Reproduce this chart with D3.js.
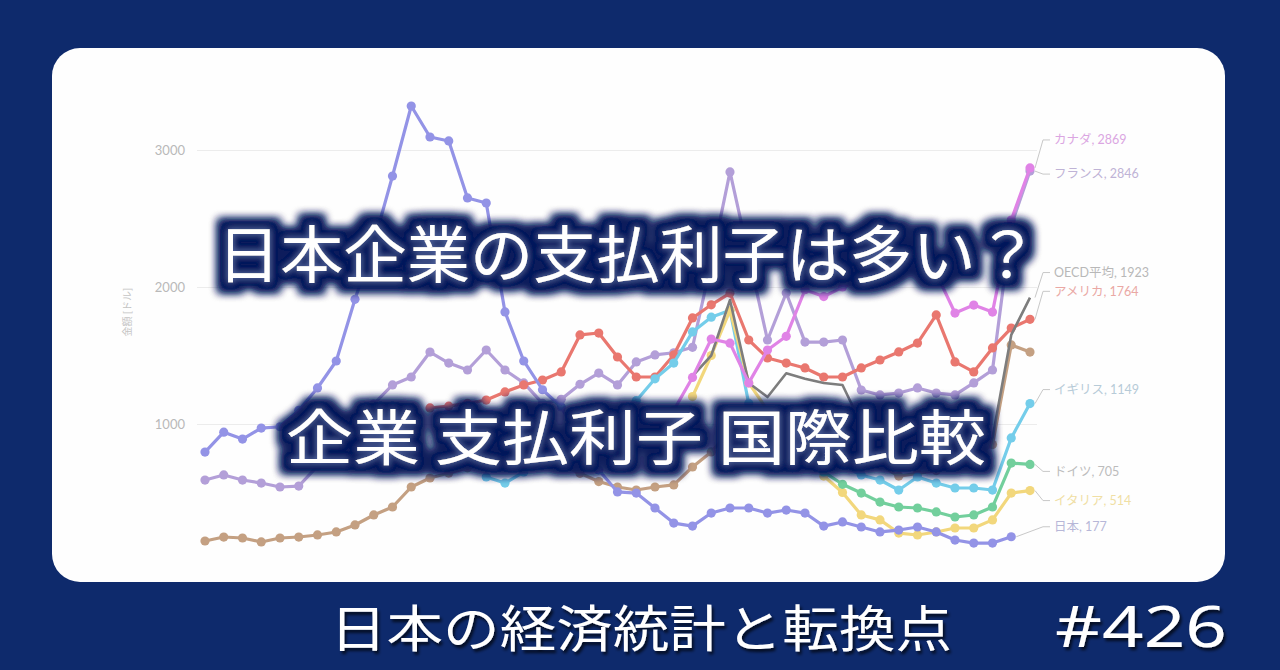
<!DOCTYPE html>
<html><head><meta charset="utf-8">
<script src="https://cdn.jsdelivr.net/npm/d3@7/dist/d3.min.js"></script>
<style>
html,body{margin:0;padding:0;background:#0e2a6c;}
svg{display:block;}
</style></head>
<body>
<svg id="c" width="1280" height="670"></svg>
<script>
// ---- data ----
const years = [1978,1979,1980,1981,1982,1983,1984,1985,1986,1987,1988,1989,1990,1991,1992,1993,1994,1995,1996,1997,1998,1999,2000,2001,2002,2003,2004,2005,2006,2007,2008,2009,2010,2011,2012,2013,2014,2015,2016,2017,2018,2019,2020,2021,2022];
const yTicks = [1000, 2000, 3000];
const title1 = "日本企業の支払利子は多い？";
const title2 = "企業 支払利子 国際比較";
const footer = "日本の経済統計と転換点";
const footerNo = "#426";
const yTitle = "金額 [ドル]";

const japan = [795,940,890,970,980,1100,1263,1460,1910,2320,2810,3321,3095,3066,2650,2613,1818,1460,1250,1124,880,664,504,496,387,277,255,350,387,387,350,372,350,255,285,248,212,226,248,212,153,131,131,177,null];
const france = [591,628,591,569,540,547,693,839,993,1146,1285,1343,1525,1445,1394,1540,1394,1300,1150,1180,1290,1372,1285,1453,1504,1520,1560,2180,2840,2226,1613,1956,1598,1598,1613,1248,1212,1226,1263,1226,1212,1300,1394,2450,2846];
const brown = [146,175,168,139,168,175,190,212,263,336,394,540,606,642,680,720,760,780,760,700,640,580,540,518,540,555,686,796,950,1000,950,900,860,820,780,740,700,620,640,660,700,760,850,1577,1525];
const usa = [null,null,null,null,null,null,null,null,null,null,null,null,1117,1130,1150,1175,1234,1285,1321,1380,1650,1664,1489,1343,1343,1504,1774,1870,1956,1613,1482,1445,1409,1343,1343,1409,1467,1526,1591,1796,1453,1380,1555,1700,1764];
const uk = [null,null,null,null,null,null,null,null,null,null,null,null,null,null,null,613,569,650,750,850,950,1050,1100,1170,1330,1445,1672,1780,1830,1150,950,850,800,750,700,628,591,518,613,569,533,533,518,898,1149];
const canada = [null,null,null,null,null,null,null,null,null,null,null,null,null,null,null,null,null,null,null,null,null,null,null,null,900,1100,1340,1620,1590,1300,1540,1640,1980,1930,2000,2050,2100,2150,2200,2100,1810,1868,1817,2489,2869];
const italy = [null,null,null,null,null,null,null,null,null,null,null,null,null,null,null,null,null,null,null,null,null,null,null,null,null,null,1200,1500,1830,1300,1100,1000,850,620,500,336,300,204,190,212,241,241,300,496,514];
const germany = [null,null,null,null,null,null,null,null,null,null,null,null,null,null,null,null,null,null,null,null,null,null,null,null,null,null,null,null,null,1000,900,850,780,650,560,496,430,394,387,358,321,336,394,715,705];
const oecd = [null,null,null,null,null,null,null,null,null,null,null,null,null,null,null,null,null,null,null,null,null,null,null,null,null,null,1350,1500,1905,1299,1197,1370,1330,1299,1285,1000,900,850,820,800,780,800,900,1650,1923];

const seriesNames = ["日本","フランス","韓国","アメリカ","イギリス","カナダ","イタリア","ドイツ","OECD平均"];
const seriesValues = [japan, france, brown, usa, uk, canada, italy, germany, oecd];
const endLabels = ["日本, 177","フランス, 2846",null,"アメリカ, 1764","イギリス, 1149","カナダ, 2869","イタリア, 514","ドイツ, 705","OECD平均, 1923"];

// ---- styles / layout ----
const lineColors = ["#9393e6","#b39fd8","#c4a082","#e9776f","#74cdea","#e083e6","#f2d77c","#72cf9c","#7d7d7d"];
const labelColors = ["#b7b7d8","#bfb3d6",null,"#eaa8a4","#b7cbd8","#dba6e2","#f0dfa4","#bcbcbc","#b8b8b8"];
const labelNudge = [-10, 3, 0, -28, -14, -28, 10, 7, -25];
const drawOrder = [2,1,3,4,6,7,8,5,0];

const svg = d3.select("#c");
const defs = svg.append("defs");
const f = defs.append("filter").attr("id","glow").attr("x","-10%").attr("y","-50%").attr("width","120%").attr("height","200%");
f.append("feMorphology").attr("in","SourceAlpha").attr("operator","dilate").attr("radius",10).attr("result","d");
f.append("feGaussianBlur").attr("in","d").attr("stdDeviation",4).attr("result","b");
f.append("feFlood").attr("flood-color","#0b1f5c").attr("result","fl");
f.append("feComposite").attr("in","fl").attr("in2","b").attr("operator","in").attr("result","navy");
f.append("feGaussianBlur").attr("in","SourceAlpha").attr("stdDeviation",3).attr("result","sb");
f.append("feFlood").attr("flood-color","#6f86c8").attr("flood-opacity",0.6).attr("result","fl2");
f.append("feComposite").attr("in","fl2").attr("in2","sb").attr("operator","in").attr("result","halo");
const fm = f.append("feMerge");
fm.append("feMergeNode").attr("in","navy");
fm.append("feMergeNode").attr("in","navy");
fm.append("feMergeNode").attr("in","halo");
fm.append("feMergeNode").attr("in","SourceGraphic");

const sh = defs.append("filter").attr("id","shadow").attr("x","-5%").attr("y","-20%").attr("width","110%").attr("height","150%");
sh.append("feDropShadow").attr("dx",2).attr("dy",3).attr("stdDeviation",1.5).attr("flood-color","#000").attr("flood-opacity",0.7);

// background & card
svg.append("rect").attr("width",1280).attr("height",670).attr("fill","#0e2a6c");
svg.append("rect").attr("x",52).attr("y",48).attr("width",1173).attr("height",534).attr("rx",28).attr("fill","#fefefe");

const x = d3.scalePoint().domain(years).range([205,1030]);
const y = d3.scaleLinear().domain([0,3000]).range([561,150]);

// grid + axis
const ax = svg.append("g").attr("transform","translate(197,0)")
  .call(d3.axisLeft(y).tickValues(yTicks).tickSize(-840).tickPadding(12).tickFormat(d3.format("d")));
ax.select(".domain").remove();
ax.selectAll(".tick line").attr("stroke","#ececec").attr("stroke-width",1.2);
ax.selectAll(".tick text").attr("fill","#b9b9b9").attr("font-size",13).attr("font-family","Lato, 'Noto Sans', sans-serif");

svg.append("text").attr("transform","translate(131,312) rotate(-90)").attr("text-anchor","middle")
  .attr("font-size",10).attr("fill","#c4c4c4").attr("font-family","'Noto Sans CJK JP', sans-serif").text(yTitle);

// lines
const line = d3.line().defined(d => d.v != null).x(d => x(d.year)).y(d => y(d.v));
const plot = svg.append("g");
drawOrder.forEach(si => {
  const pts = seriesValues[si].map((v,i) => ({year: years[i], v}));
  const g = plot.append("g");
  g.append("path").datum(pts).attr("d", line).attr("fill","none")
    .attr("stroke", lineColors[si]).attr("stroke-width", si===8 ? 2.6 : 3.2).attr("stroke-linejoin","round");
  if (si !== 8) {
    g.selectAll("circle").data(pts.filter(d => d.v != null)).join("circle")
      .attr("cx", d => x(d.year)).attr("cy", d => y(d.v)).attr("r", 4.6).attr("fill", lineColors[si]);
  }
});

// end labels
const lab = svg.append("g").attr("font-family","Lato, 'Noto Sans CJK JP', sans-serif").attr("font-size",12.5);
seriesValues.forEach((vals, si) => {
  if (!endLabels[si]) return;
  let li = vals.length - 1; while (vals[li] == null) li--;
  const px = x(years[li]) + 5, py = y(vals[li]);
  const ly = py + labelNudge[si];
  lab.append("path").attr("d", `M${px},${py} L${1043},${ly} L${1050},${ly}`)
    .attr("fill","none").attr("stroke","#c8c8c8").attr("stroke-width",1);
  lab.append("text").attr("x",1054).attr("y",ly).attr("dy","0.35em").attr("fill",labelColors[si]).text(endLabels[si]);
});

// title overlays
const tf = "'Noto Sans CJK JP', sans-serif";
svg.append("text").attr("x",628).attr("y",278).attr("text-anchor","middle").attr("font-family",tf)
  .attr("font-size",62).attr("font-weight",400).attr("fill","#fff").attr("textLength",822).attr("lengthAdjust","spacingAndGlyphs")
  .attr("filter","url(#glow)").text(title1);
svg.append("text").attr("x",636).attr("y",460).attr("text-anchor","middle").attr("font-family",tf)
  .attr("font-size",60).attr("font-weight",400).attr("fill","#fff").attr("textLength",700).attr("lengthAdjust","spacingAndGlyphs")
  .attr("filter","url(#glow)").text(title2);

// footer
svg.append("text").attr("x",330).attr("y",647).attr("font-family",tf).attr("font-size",50).attr("fill","#fff")
  .attr("textLength",622).attr("lengthAdjust","spacingAndGlyphs").attr("filter","url(#shadow)").text(footer);
svg.append("text").attr("x",1055).attr("y",647).attr("font-family","'Noto Sans', sans-serif").attr("font-size",56).attr("fill","#fff")
  .attr("textLength",172).attr("lengthAdjust","spacingAndGlyphs").attr("filter","url(#shadow)").text(footerNo);
</script>
</body></html>
